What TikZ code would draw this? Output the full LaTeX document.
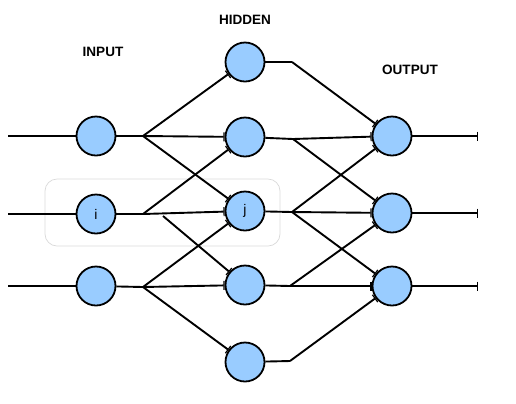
\documentclass[tikz,border=0pt]{standalone}
\usepackage{fontspec}
\setmainfont{Liberation Sans}
\usetikzlibrary{arrows.meta}
\begin{document}
\begin{tikzpicture}[x=1bp,y=-1bp,
  neuron/.style={circle,draw=black,line width=1.8bp,fill={rgb,255:red,153;green,204;blue,255},minimum size=39bp,inner sep=0pt,font=\fontsize{14}{16}\selectfont},
  conn/.style={draw=black,line width=1.9bp},
  tee/.style={conn,-{Bar[width=9bp,line width=1.2bp]}},
  layerlabel/.style={font=\fontsize{13.6}{16}\selectfont\bfseries}]
\useasboundingbox (0,0) rectangle (516,403);
% grouping box
\draw[black!15,line width=0.7bp,rounded corners=12bp] (45,179) rectangle (280,246);
% labels
\node[layerlabel] (lin) at (103,52) {INPUT};
\node[layerlabel] (lhid) at (245,20) {HIDDEN};
\node[layerlabel] (lout) at (410,70) {OUTPUT};
% neurons
\node[neuron] (I1) at (96,136) {};
\node[neuron] (I2) at (96,214) {i};
\node[neuron] (I3) at (96,286) {};
\node[neuron] (H1) at (245,62) {};
\node[neuron] (H2) at (245,137) {};
\node[neuron] (H3) at (245,211) {j};
\node[neuron] (H4) at (245,285) {};
\node[neuron] (H5) at (245,362) {};
\node[neuron] (O1) at (392,136) {};
\node[neuron] (O2) at (392,213) {};
\node[neuron] (O3) at (392,286) {};
% coordinates
\coordinate (s1) at (8,136);
\coordinate (s2) at (8,214);
\coordinate (s3) at (8,286);
\coordinate (b1) at (143,136);
\coordinate (b2) at (143,214);
\coordinate (b2x) at (163,216);
\coordinate (b3) at (143,287);
\coordinate (c1) at (292,62);
\coordinate (c2) at (293,139);
\coordinate (c3) at (292,212);
\coordinate (c4) at (290,286);
\coordinate (c5) at (290,361);
\coordinate (e1) at (478,136);
\coordinate (e2) at (478,213);
\coordinate (e3) at (478,286);
% input lines
\draw[conn] (s1) -- (I1);
\draw[conn] (s2) -- (I2);
\draw[conn] (s3) -- (I3);
\draw[conn] (I1) -- (b1);
\draw[conn] (I2) -- (b2);
\draw[conn] (I3) -- (b3);
% input to hidden
\draw[tee] (b1) -- (H1);
\draw[tee] (b1) -- (H2);
\draw[tee] (b1) -- (H3);
\draw[tee] (b2) -- (H2);
\draw[tee] (b2) -- (H3);
\draw[tee] (b2x) -- (H4);
\draw[tee] (b3) -- (H3);
\draw[tee] (b3) -- (H4);
\draw[tee] (b3) -- (H5);
% hidden stubs
\draw[conn] (H1) -- (c1);
\draw[conn] (H2) -- (c2);
\draw[conn] (H3) -- (c3);
\draw[conn] (H4) -- (c4);
\draw[conn] (H5) -- (c5);
% hidden to output
\draw[tee] (c1) -- (O1);
\draw[tee] (c2) -- (O1);
\draw[tee] (c2) -- (O2);
\draw[tee] (c3) -- (O1);
\draw[tee] (c3) -- (O2);
\draw[tee] (c3) -- (O3);
\draw[tee] (c4) -- (O2);
\draw[tee] (c4) -- (O3);
\draw[tee] (c5) -- (O3);
% outputs
\draw[tee] (O1) -- (e1);
\draw[tee] (O2) -- (e2);
\draw[tee] (O3) -- (e3);
\end{tikzpicture}
\end{document}
